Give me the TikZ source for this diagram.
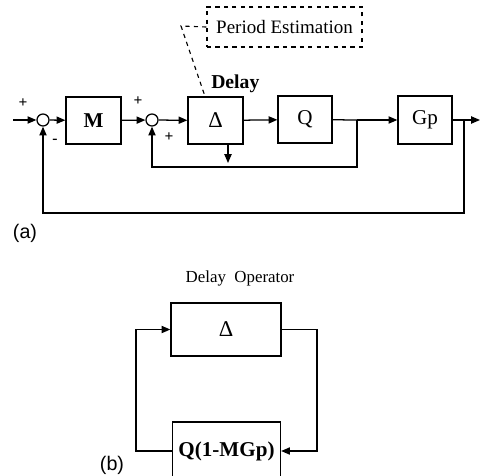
\documentclass[tikz,border=0pt]{standalone}
\usepackage{fontspec}
\setmainfont{Liberation Serif}
\setsansfont{Liberation Sans}
\usetikzlibrary{arrows.meta, positioning, calc}

\begin{document}
\begin{tikzpicture}[
    x=0.025cm, y=-0.025cm,
    font=\fontsize{15}{17}\selectfont,
    block/.style={rectangle, draw, line width=0.9pt, minimum width=1.375cm, minimum height=1.175cm, inner sep=0pt},
    sumpt/.style={circle, draw, line width=0.9pt, minimum size=0.3cm, inner sep=0pt},
    sgn/.style={font=\fontsize{11}{12}\selectfont\bfseries, inner sep=0pt},
    arr/.style={-{Triangle[length=2.2mm, width=1.8mm]}, line width=0.9pt},
    wire/.style={line width=0.9pt},
]
    \useasboundingbox (0,0) rectangle (481,475);

    % (a) repetitive controller
    \coordinate (in) at (13,120);
    \node[sumpt] (sum1) at (43,120) {};
    \node[block, font=\fontsize{15}{17}\selectfont\bfseries] (M) at (93.5,120.5) {M};
    \node[sumpt] (sum2) at (152,120) {};
    \node[block, font=\fontsize{16}{18}\selectfont] (delta) at (215.5,120.5) {Δ};
    \node[block, minimum width=1.35cm, minimum height=1.175cm] (Q) at (305,119.5) {Q};
    \node[block, minimum width=1.35cm, minimum height=1.2cm] (Gp) at (425,120) {Gp};
    \coordinate (j1) at (357,120);
    \coordinate (j2) at (464,120);
    \coordinate (out) at (480,120);

    \node[sgn] at (23,103) {+};
    \node[sgn] at (55,141) {-};
    \node[sgn] at (138,101) {+};
    \node[sgn] at (169,137) {+};
    \node[font=\fontsize{14}{16}\selectfont\bfseries, anchor=west, inner sep=0pt] (dlbl) at (211,84) {Delay};

    \draw[arr] (in) -- (sum1);
    \draw[arr] (sum1) -- (M);
    \draw[arr] (M) -- (sum2);
    \draw[arr] (sum2) -- (delta);
    \draw[arr] (delta) -- (Q);
    \draw[wire] (Q) -- (j1);
    \draw[arr] (j1) -- (Gp);
    \draw[arr] (Gp) -- (out);
    \draw[arr] (j1) -- (357,167) -| (sum2);
    \draw[arr] (j2) -- (464,213) -| (sum1);
    \coordinate (rst) at (228,163);
    \draw[arr] (delta.south -| rst) -- (rst);

    % period estimation
    \node[draw, dashed, line width=0.8pt, minimum width=3.875cm, minimum height=1cm, font=\fontsize{13.5}{15}\selectfont] (pest) at (284.5,27) {Period Estimation};
    \coordinate (bend) at (181,26);
    \draw[dashed, line width=0.8pt] (pest.west) -- (bend) -- (delta.north -| 205,0);

    \node[font=\sffamily\fontsize{14}{16}\selectfont] (lbla) at (25,233) {(a)};

    % (b) delay operator loop
    \node[font=\fontsize{12}{14}\selectfont] (dop) at (240,278) {Delay~~Operator};
    \node[block, minimum width=2.75cm, minimum height=1.325cm, font=\fontsize{16}{18}\selectfont] (delta2) at (226,329.5) {Δ};
    \node[block, minimum width=2.7cm, minimum height=1.45cm, font=\fontsize{15}{17}\selectfont\bfseries] (QM) at (226.5,451) {Q(1-MGp)};
    \draw[arr] (QM.west) -- (136,451) |- (delta2.west);
    \draw[arr] (delta2.east) -- (317,329.5) |- (QM.east);
    \node[font=\sffamily\fontsize{14}{16}\selectfont] (lblb) at (112,465) {(b)};
\end{tikzpicture}
\end{document}
